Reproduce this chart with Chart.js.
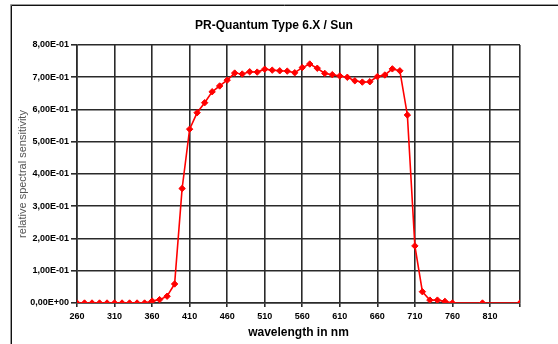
<!DOCTYPE html>
<html>
<head>
<meta charset="utf-8">
<script src="https://cdn.jsdelivr.net/npm/chart.js@4"></script>
<style>
html,body{margin:0;padding:0;background:#fff;}
#wrap{width:558px;height:344px;position:relative;}
</style>
</head>
<body>
<div id="wrap"><canvas id="c" width="558" height="344"></canvas></div>
<script>
const chartTitle = 'PR-Quantum Type 6.X / Sun';
const xTitle = 'wavelength in nm';
const yTitle = 'relative spectral sensitivity';
const wavelengths = [260,270,280,290,300,310,320,330,340,350,360,370,380,390,400,410,420,430,440,450,460,470,480,490,500,510,520,530,540,550,560,570,580,590,600,610,620,630,640,650,660,670,680,690,700,710,720,730,740,750,760,800,850];
const sensitivity = [0,0,0,0,0,0,0,0,0,0,0.006,0.0105,0.021,0.059,0.355,0.539,0.590,0.621,0.655,0.673,0.691,0.713,0.710,0.717,0.716,0.725,0.722,0.720,0.719,0.714,0.730,0.741,0.728,0.712,0.708,0.704,0.700,0.689,0.685,0.686,0.702,0.707,0.726,0.720,0.583,0.177,0.035,0.009,0.009,0.005,0,0,0];
const xTickLabels = ['260','310','360','410','460','510','560','610','660','710','760','810'];
const xMax = 850;
const yTickLabels = ['0,00E+00','1,00E-01','2,00E-01','3,00E-01','4,00E-01','5,00E-01','6,00E-01','7,00E-01','8,00E-01'];

const FONT = "'Liberation Sans', Arial, sans-serif";
const points = wavelengths.map((w,i)=>({x:w, y:sensitivity[i]}));

const framePlugin = {
  id:'frame',
  beforeDraw(chart){
    const ctx = chart.ctx;
    ctx.save();
    ctx.fillStyle = '#fff';
    ctx.fillRect(0,0,chart.width,chart.height);
    ctx.strokeStyle = '#9a9a9a';
    ctx.lineWidth = 1;
    ctx.beginPath();
    ctx.moveTo(10.5, 344); ctx.lineTo(10.5, 4.5); ctx.lineTo(558, 4.5);
    ctx.stroke();
    ctx.strokeStyle = '#111';
    ctx.beginPath();
    ctx.moveTo(11.5, 344); ctx.lineTo(11.5, 5.5); ctx.lineTo(558, 5.5);
    ctx.stroke();
    ctx.restore();
  },
  afterDraw(chart){
    const ctx = chart.ctx;
    ctx.save();
    ctx.font = 'bold 12px ' + FONT;
    ctx.fillStyle = '#000';
    ctx.textAlign = 'center';
    ctx.textBaseline = 'middle';
    ctx.fillText(chartTitle, 274, 26);
    ctx.restore();
  }
};

new Chart(document.getElementById('c'), {
  type:'line',
  data:{
    datasets:[{
      data: points,
      borderColor:'#ff0000',
      backgroundColor:'#ff0000',
      borderWidth:1.6,
      pointStyle:'rectRot',
      pointRadius:3.2,
      pointBorderWidth:1,
      pointBackgroundColor:'#ff0000',
      pointBorderColor:'#ff0000',
      tension:0,
      fill:false
    }]
  },
  options:{
    responsive:false,
    animation:false,
    devicePixelRatio:1,
    layout:{padding:{left:0, top:45, right:38, bottom:0}},
    plugins:{legend:{display:false}, tooltip:{enabled:false}, title:{display:false}},
    scales:{
      x:{
        type:'linear',
        min:260, max:xMax,
        afterFit(s){ s.height = 41; },
        afterBuildTicks(s){ s.ticks = xTickLabels.map(Number).concat([xMax]).map(v=>({value:v})); },
        ticks:{
          autoSkip:false,
          maxRotation:0,
          padding:4,
          color:'#000',
          font:{family:FONT, size:9, weight:'bold'},
          callback(v){ const s=String(v); return xTickLabels.includes(s) ? s : ''; }
        },
        grid:{color:'#2a2a2a', lineWidth:1.6, tickLength:4, drawTicks:true},
        border:{color:'#2a2a2a', width:1.6},
        title:{display:true, text:xTitle, color:'#000', font:{family:FONT, size:12, weight:'bold'}, padding:{top:0,bottom:3.8}}
      },
      y:{
        min:0, max:0.8,
        afterFit(s){ s.width = 77; },
        ticks:{
          stepSize:0.1,
          padding:2,
          color:'#000',
          font:{family:FONT, size:9, weight:'bold'},
          callback(v, i){ return yTickLabels[i]; }
        },
        grid:{color:'#2a2a2a', lineWidth:1.6, tickLength:6, drawTicks:true},
        border:{color:'#2a2a2a', width:1.6},
        title:{display:true, text:yTitle, color:'#555', font:{family:FONT, size:11}, padding:{top:16.4,bottom:0}}
      }
    }
  },
  plugins:[framePlugin]
});
</script>
</body>
</html>
